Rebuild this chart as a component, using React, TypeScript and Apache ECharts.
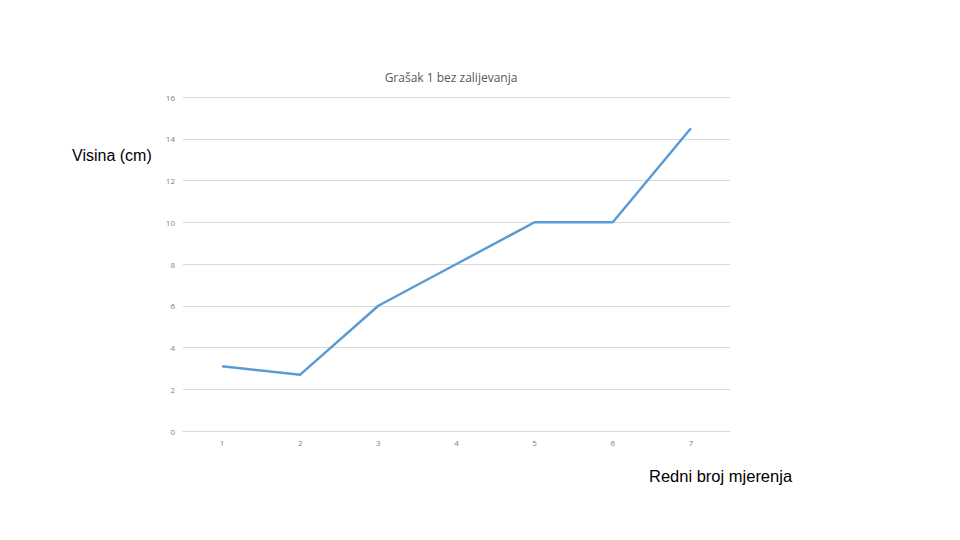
import React, { useEffect, useRef } from "react";
import * as echarts from "echarts";

const categories = ["1", "2", "3", "4", "5", "6", "7"];
const heights = [3.1, 2.7, 6, 8, 10, 10, 14.5];
const chartTitle = "Grašak 1 bez zalijevanja";
const yTitle = "Visina (cm)";
const xTitle = "Redni broj mjerenja";

export default function App() {
  const ref = useRef<HTMLDivElement>(null);
  useEffect(() => {
    if (!ref.current) return;
    const chart = echarts.init(ref.current, undefined, { renderer: "svg" });
    chart.setOption({
      animation: false,
      backgroundColor: "#ffffff",
      title: {
        text: chartTitle,
        left: 438,
        textAlign: "center",
        top: 58,
        textStyle: { fontFamily: "Open Sans", fontSize: 12, fontWeight: "normal", color: "#595959" },
      },
      grid: { left: 175, right: 238, top: 89, bottom: 117, containLabel: false },
      xAxis: {
        type: "category",
        data: categories,
        boundaryGap: true,
        axisLine: { show: true, lineStyle: { color: "#d9d9d9" } },
        axisTick: { show: false },
        axisLabel: { color: "#7f7f7f", fontSize: 8, fontFamily: "Open Sans", margin: 7 },
      },
      yAxis: {
        type: "value",
        min: 0,
        max: 16,
        interval: 2,
        axisLine: { show: false },
        axisTick: { show: false },
        axisLabel: { color: "#7f7f7f", fontSize: 8, fontFamily: "Open Sans", margin: 8 },
        splitLine: { lineStyle: { color: "#d9d9d9", width: 1 } },
      },
      series: [
        {
          type: "line",
          data: heights,
          symbol: "none",
          lineStyle: { color: "#5b9bd5", width: 2.5 },
        },
      ],
      graphic: [
        {
          type: "text",
          left: 64,
          top: 139,
          style: { text: yTitle, fontFamily: "Liberation Sans", fontSize: 16, fill: "#000000" },
        },
        {
          type: "text",
          left: 641,
          top: 459,
          style: { text: xTitle, fontFamily: "Liberation Sans", fontSize: 16.5, fill: "#000000" },
        },
      ],
    });
    return () => chart.dispose();
  }, []);
  return <div ref={ref} style={{ width: 960, height: 540 }} />;
}
